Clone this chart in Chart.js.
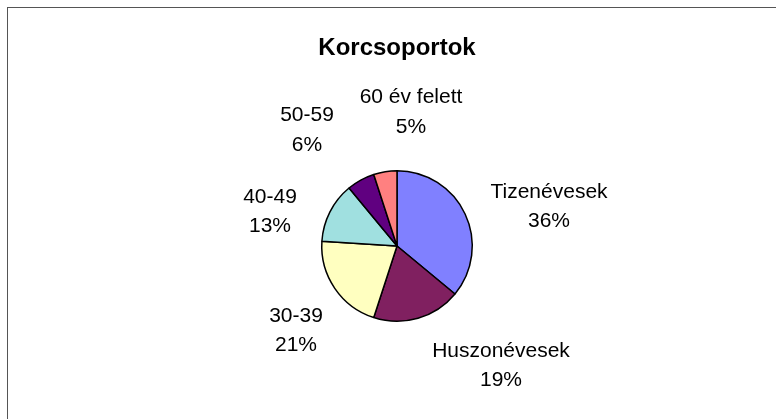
<!DOCTYPE html>
<html>
<head>
<meta charset="utf-8">
<script src="https://cdn.jsdelivr.net/npm/chart.js@4/dist/chart.umd.min.js"></script>
<style>
  html, body { margin: 0; padding: 0; background: #fff; overflow: hidden; }
  #frame { position: absolute; left: 7px; top: 7px; width: 800px; height: 440px; border-left: 1px solid #555; border-top: 1px solid #555; box-sizing: border-box; }
  #wrap { position: absolute; left: 0; top: 0; width: 776px; height: 419px; }
</style>
</head>
<body>
<div id="frame"></div>
<div id="wrap"><canvas id="c"></canvas></div>
<script>
const title = "Korcsoportok";
const categories = ["Tizenévesek", "Huszonévesek", "30-39", "40-49", "50-59", "60 év felett"];
const values = [36, 19, 21, 13, 6, 5];
const colors = ["#8080FF", "#802060", "#FFFFC0", "#A0E0E0", "#600080", "#FF8080"];
// label placement (layout only): offsets of first text line from pie centre, px
const labelOffsets = [[152, -54], [104, 105], [-101, 70], [-127, -49], [-90, -130.5], [14, -148.5]];

const labelPlugin = {
  id: 'labels',
  afterDatasetsDraw(chart) {
    const ctx = chart.ctx;
    const meta = chart.getDatasetMeta(0);
    const total = values.reduce((a, b) => a + b, 0);
    ctx.save();
    ctx.fillStyle = '#000';
    ctx.textAlign = 'center';
    ctx.textBaseline = 'middle';
    ctx.font = 'bold 24px "Liberation Sans", Arial, sans-serif';
    const cx = meta.data[0].x;
    ctx.fillText(title, cx, 48);
    ctx.font = '21px "Liberation Sans", Arial, sans-serif';
    meta.data.forEach((arc, i) => {
      const [dx, dy] = labelOffsets[i];
      const pct = Math.round(values[i] / total * 100) + '%';
      ctx.fillText(categories[i], arc.x + dx, arc.y + dy);
      ctx.fillText(pct, arc.x + dx, arc.y + dy + 29.5);
    });
    ctx.restore();
  }
};

new Chart(document.getElementById('c'), {
  type: 'pie',
  data: {
    labels: categories,
    datasets: [{
      data: values,
      backgroundColor: colors,
      borderColor: '#000',
      borderWidth: 1.5,
      hoverOffset: 0
    }]
  },
  options: {
    responsive: true,
    maintainAspectRatio: false,
    animation: false,
    layout: { padding: { top: 170, bottom: 97, left: 321, right: 303 } },
    plugins: {
      legend: { display: false },
      tooltip: { enabled: false },
      title: { display: false }
    }
  },
  plugins: [labelPlugin]
});
</script>
</body>
</html>
